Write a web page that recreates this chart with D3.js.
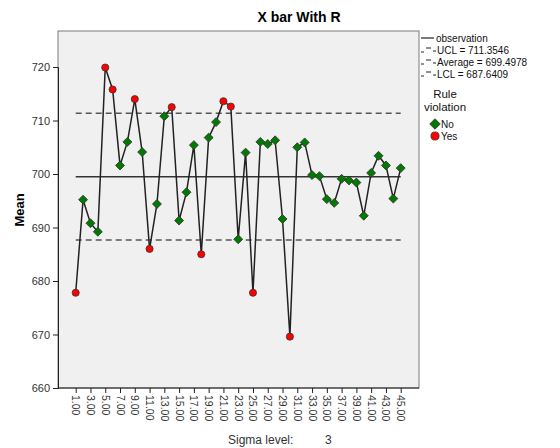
<!DOCTYPE html>
<html><head><meta charset="utf-8">
<script src="https://cdn.jsdelivr.net/npm/d3@7"></script>
<style>body{margin:0;background:#fff;} text{font-family:"Liberation Sans",Arial,sans-serif;}</style>
</head><body>
<svg id="c" width="560" height="448"></svg>
<script>
const samples = d3.range(1, 46);
const means = [677.8,695.2,690.8,689.2,719.9,715.8,701.6,706.0,714.0,704.1,
  686.0,694.4,710.8,712.5,691.3,696.6,705.4,685.0,706.8,709.7,
  713.6,712.6,687.8,704.0,677.8,706.0,705.6,706.3,691.6,669.6,
  705.0,705.9,699.8,699.6,695.3,694.6,699.1,698.8,698.4,692.2,
  700.2,703.4,701.6,695.4,701.1];
const violation = [1,0,0,0,1,1,0,0,1,0, 1,0,0,1,0,0,0,1,0,0, 1,1,0,0,1,0,0,0,0,1, 0,0,0,0,0,0,0,0,0,0, 0,0,0,0,0];
const yTicks = [660,670,680,690,700,710,720];
const xTickVals = d3.range(1, 46, 2);
const UCL = 711.3546, AVG = 699.4978, LCL = 687.6409;
const legendLines = ["observation","UCL = 711.3546","Average = 699.4978","LCL = 687.6409"];
const legendRule = ["No","Yes"];

const svg = d3.select("#c");
const fx0 = 58, fx1 = 419, fy0 = 31, fy1 = 388;
const x = d3.scaleLinear().domain([1,45]).range([75.7,400.7]);
const y = d3.scaleLinear().domain([660,720]).range([388,67]);

svg.append("rect").attr("x",fx0).attr("y",fy0).attr("width",fx1-fx0).attr("height",fy1-fy0)
  .attr("fill","#f0f0f0").attr("stroke","#7a7a7a").attr("stroke-width",1);

// title
svg.append("text").attr("x",299).attr("y",22).attr("text-anchor","middle")
  .attr("font-size",14).attr("font-weight","bold").attr("fill","#000").text("X bar With R");

// y axis
const ya = svg.append("g").attr("transform",`translate(${fx0},0)`)
  .call(d3.axisLeft(y).tickValues(yTicks).tickSize(5).tickFormat(d3.format("d")));
ya.select(".domain").attr("stroke","#222");
ya.selectAll(".tick line").attr("stroke","#222");
ya.selectAll("text").attr("font-size",11).attr("fill","#333").attr("font-family","Liberation Sans, Arial");

svg.append("text").attr("transform","translate(24,210) rotate(-90)").attr("text-anchor","middle")
  .attr("font-size",13).attr("font-weight","bold").text("Mean");

// x axis
const xa = svg.append("g").attr("transform",`translate(0,${fy1})`)
  .call(d3.axisBottom(x).tickValues(xTickVals).tickSize(5).tickFormat(d=>d3.format(".2f")(d)));
xa.select(".domain").attr("stroke","#222").attr("d",`M${fx0},0H${fx1}`);
xa.selectAll(".tick line").attr("stroke","#222");
xa.selectAll("text").attr("font-size",10.5).attr("fill","#333").attr("font-family","Liberation Sans, Arial")
  .attr("text-anchor","start").attr("dy",null).attr("y",0)
  .attr("transform","translate(-4,7) rotate(90)");

// reference lines
const refs = [{v:UCL,d:"6,4"},{v:AVG,d:null},{v:LCL,d:"6,4"}];
refs.forEach(r=>{
  svg.append("line").attr("x1",x(1)).attr("x2",x(45)).attr("y1",y(r.v)).attr("y2",y(r.v))
   .attr("stroke",r.d?"#555":"#333").attr("stroke-width",1.5).attr("stroke-dasharray",r.d);
});

// data line
const data = samples.map((s,i)=>({s, m:means[i], v:violation[i]}));
svg.append("path").datum(data)
  .attr("d", d3.line().x(d=>x(d.s)).y(d=>y(d.m)))
  .attr("fill","none").attr("stroke","#222").attr("stroke-width",1.5);

const dsym = d3.symbol().type(d3.symbolSquare).size(40);
const csym = d3.symbol().type(d3.symbolCircle).size(40);
svg.selectAll(".pt").data(data).join("path").attr("class","pt")
  .attr("d", d=> d.v ? csym() : dsym())
  .attr("transform", d=>`translate(${x(d.s)},${y(d.m)})` + (d.v?"":" rotate(45)"))
  .attr("fill", d=> d.v ? "#ff0000" : "#007a00")
  .attr("stroke","#333").attr("stroke-width",0.8);

// legend
const lg = svg.append("g");
legendLines.forEach((t,i)=>{
  const yy = 38 + i*12;
  if(i===0){
    lg.append("line").attr("x1",421).attr("x2",434).attr("y1",yy).attr("y2",yy).attr("stroke","#222").attr("stroke-width",1.2);
  } else {
    lg.append("line").attr("x1",421).attr("x2",424).attr("y1",yy+2).attr("y2",yy+2).attr("stroke","#222");
    lg.append("line").attr("x1",426).attr("x2",431).attr("y1",yy-2).attr("y2",yy-2).attr("stroke","#222");
    lg.append("line").attr("x1",433).attr("x2",436).attr("y1",yy+1).attr("y2",yy+1).attr("stroke","#222");
  }
  lg.append("text").attr("x", i===0?436:437).attr("y",yy+3.5).attr("font-size",10).attr("fill","#111").text(t);
});
lg.append("text").attr("x",445).attr("y",98).attr("text-anchor","middle").attr("font-size",11.5).attr("fill","#111").text("Rule");
lg.append("text").attr("x",445).attr("y",111).attr("text-anchor","middle").attr("font-size",11.5).attr("fill","#111").text("violation");
legendRule.forEach((t,i)=>{
  const yy = 124 + i*12;
  lg.append("path").attr("d", i? d3.symbol().type(d3.symbolCircle).size(52)() : d3.symbol().type(d3.symbolSquare).size(55)())
    .attr("transform",`translate(435,${yy})` + (i?"":" rotate(45)"))
    .attr("fill", i?"#ff0000":"#007a00").attr("stroke","#333").attr("stroke-width",0.8);
  lg.append("text").attr("x",441).attr("y",yy+3.5).attr("font-size",10).attr("fill","#111").text(t);
});

// sigma
svg.append("text").attr("x",228).attr("y",444).attr("font-size",12).attr("fill","#333").text("Sigma level:");
svg.append("text").attr("x",325).attr("y",444).attr("font-size",12).attr("fill","#333").text("3");
</script>
</body></html>
